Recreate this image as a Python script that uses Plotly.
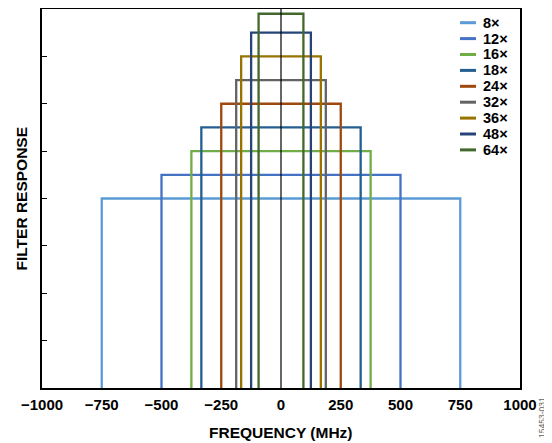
import plotly.graph_objects as go

series_names = ["8×", "12×", "16×", "18×", "24×", "32×", "36×", "48×", "64×"]
half_bandwidth_mhz = [750, 500, 375, 333.3, 250, 187.5, 166.7, 125, 93.75]
response_level = [4.0, 4.5, 5.0, 5.5, 6.0, 6.5, 7.0, 7.5, 7.9]
colors = ["#5B9BD5", "#4472C4", "#70AD47", "#255E91", "#9E480E",
          "#636363", "#997300", "#264478", "#43682B"]
x_tick_vals = [-1000, -750, -500, -250, 0, 250, 500, 750, 1000]
x_tick_text = ["\u22121000", "\u2212750", "\u2212500", "\u2212250", "0", "250", "500", "750", "1000"]

# the page body has an 8 px margin; the figure starts at (8, 8) in the window
OFF = 8
W, H = 552 - OFF, 443 - OFF
# plot area in page pixels: left 42, right 520, top 9, bottom 388
L = 42 - OFF
T = 9 - OFF
R = W - (520 - OFF)
B = H - (388 - OFF)
PW, PH = W - L - R, H - T - B


def px_x(p):
    return (p - OFF - L) / PW


def px_y(p):
    return (H - B - (p - OFF)) / PH


font_family = "Liberation Sans, Arial, sans-serif"

fig = go.Figure()
for name, w, h, c in zip(series_names, half_bandwidth_mhz, response_level, colors):
    fig.add_trace(go.Scatter(
        x=[-w, -w, w, w], y=[0, h, h, 0], mode="lines", name=name,
        line=dict(color=c, width=2.3), hoverinfo="skip", showlegend=False))

fig.add_shape(type="line", xref="x", yref="y", x0=0, x1=0, y0=0, y1=8,
              line=dict(color="black", width=1.2), layer="above")

# legend drawn manually to match the tight spacing of the reference
for i, (name, c) in enumerate(zip(series_names, colors)):
    yc = 22.7 + 15.9 * i
    fig.add_shape(type="line", xref="paper", yref="paper",
                  x0=px_x(460), x1=px_x(476), y0=px_y(yc), y1=px_y(yc),
                  line=dict(color=c, width=3))
    fig.add_annotation(text="<b>%s</b>" % name, xref="paper", yref="paper",
                       x=px_x(481), y=px_y(yc), xanchor="left", yanchor="middle",
                       showarrow=False, font=dict(size=14.5, family=font_family, color="black"))

fig.update_layout(
    width=W, height=H,
    margin=dict(l=L, r=R, t=T, b=B),
    paper_bgcolor="white", plot_bgcolor="white",
    font=dict(family=font_family, color="black", size=12),
    showlegend=False,
    xaxis=dict(range=[-1000, 1000], tickvals=x_tick_vals, ticktext=x_tick_text,
               showgrid=False, zeroline=False, showline=True, linecolor="black",
               linewidth=2, mirror=True, ticks="", automargin=False,
               ticklabelstandoff=2,
               tickfont=dict(size=15, family=font_family, weight="bold")),
    yaxis=dict(range=[0, 8], dtick=1, showticklabels=False, showgrid=False,
               zeroline=False, showline=True, linecolor="black", linewidth=2,
               mirror=True, ticks="inside", ticklen=5, tickcolor="black",
               automargin=False),
)

fig.add_annotation(text="<b>FREQUENCY (MHz)</b>", xref="paper", yref="paper",
                   x=0.5, y=px_y(432), xanchor="center", yanchor="middle",
                   showarrow=False, font=dict(size=15.5, family=font_family, color="black"))
fig.add_annotation(text="<b>FILTER RESPONSE</b>", xref="paper", yref="paper",
                   x=px_x(21), y=0.5, xanchor="center", yanchor="middle", textangle=-90,
                   showarrow=False, font=dict(size=15.5, family=font_family, color="black"))

fig.add_annotation(text="15453-031", xref="paper", yref="paper", x=px_x(542), y=px_y(418),
                   xanchor="center", yanchor="middle", textangle=-90, showarrow=False,
                   font=dict(size=8.5, color="#666666", family=font_family))

fig.write_html("out.html")
